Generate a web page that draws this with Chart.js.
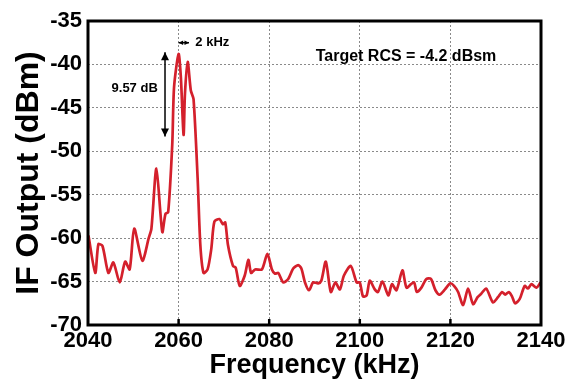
<!DOCTYPE html>
<html>
<head>
<meta charset="utf-8">
<script src="https://cdn.jsdelivr.net/npm/chart.js@4"></script>
<style>
  html, body { margin: 0; padding: 0; background: #fff; }
  #wrap { width: 571px; height: 382px; }
</style>
</head>
<body>
<div id="wrap"><canvas id="chart"></canvas></div>
<script>
// Spectrum
const freqKHz = [
    2040.1, 2041.6, 2042.3, 2043.2, 2044.5, 2045.6, 2047.0, 2048.2, 2049.2, 2050.2,
    2052.0, 2053.4, 2054.0, 2055.1, 2056.4, 2057.1, 2057.7, 2058.6, 2059.0, 2060.0,
    2060.5, 2061.1, 2061.4, 2062.0, 2062.7, 2063.3, 2064.2, 2064.8, 2065.5, 2066.4,
    2067.2, 2067.9, 2069.0, 2069.8, 2070.3, 2070.9, 2072.0, 2072.6, 2073.5, 2074.6,
    2075.4, 2076.0, 2076.9, 2078.4, 2079.6, 2080.6, 2081.3, 2082.0, 2083.1, 2084.2,
    2085.3, 2086.4, 2087.1, 2087.9, 2088.8, 2089.7, 2090.8, 2091.5, 2092.5, 2093.6,
    2094.6, 2095.6, 2096.5, 2098.0, 2099.3, 2100.0, 2100.7, 2101.5, 2102.2, 2103.3,
    2104.0, 2105.0, 2106.3, 2107.1, 2108.1, 2109.4, 2110.3, 2111.3, 2112.0, 2112.6,
    2113.6, 2114.7, 2115.7, 2116.7, 2117.6, 2118.8, 2120.0, 2120.8, 2121.7, 2122.8,
    2123.9, 2125.0, 2126.0, 2126.8, 2127.9, 2129.4, 2130.5, 2131.4, 2132.1, 2132.9,
    2133.6, 2134.3, 2135.3, 2136.4, 2137.1, 2137.9, 2139.0, 2139.9
];
const ifOutputDbm = [
    -59.7, -64.0, -60.7, -60.9, -64.0, -62.8, -65.1, -62.7, -63.6, -58.9,
    -62.6, -60.0, -58.9, -52.0, -59.3, -57.2, -57.0, -49.2, -42.6, -38.8,
    -41.5, -48.1, -43.4, -39.7, -43.0, -44.0, -53.1, -60.8, -64.0, -63.6,
    -61.3, -58.1, -57.8, -58.4, -58.2, -60.8, -63.2, -63.4, -65.5, -64.3,
    -62.5, -64.0, -63.6, -63.6, -61.8, -63.6, -64.1, -64.0, -65.1, -64.7,
    -63.5, -63.1, -63.5, -65.1, -66.0, -65.1, -65.2, -64.9, -62.7, -66.2,
    -65.1, -65.9, -64.3, -63.2, -65.1, -65.1, -66.7, -66.6, -64.9, -65.9,
    -66.2, -65.0, -66.6, -65.3, -66.0, -63.7, -65.7, -65.3, -65.1, -66.2,
    -65.7, -64.7, -64.7, -66.0, -66.5, -65.9, -65.2, -65.5, -66.2, -67.7,
    -65.8, -67.6, -66.8, -66.4, -65.8, -67.4, -66.8, -66.2, -66.5, -66.2,
    -66.7, -67.5, -67.0, -65.5, -65.8, -65.3, -65.7, -65.1
];

// Axis ranges
const xRange = [2040, 2140];
const xStep = 20;
const yRange = [-70, -35];
const yStep = 5;

const FONT = "'Liberation Sans', Arial, sans-serif";

// Annotation plugin: text and arrows placed in data coordinates
const annotations = {
    id: 'annotations',
    afterDraw(chart) {
        const { ctx, chartArea: a, scales: { x, y } } = chart;
        ctx.save();

        // inward tick marks
        ctx.strokeStyle = '#000';
        ctx.lineWidth = 2.5;
        for (let v = xRange[0] + xStep; v < xRange[1]; v += xStep) {
            const px = x.getPixelForValue(v);
            ctx.beginPath();
            ctx.moveTo(px, a.bottom);
            ctx.lineTo(px, a.bottom - 6);
            ctx.stroke();
        }

        // frame
        ctx.lineWidth = 3;
        ctx.strokeRect(a.left, a.top, a.right - a.left, a.bottom - a.top);

        // arrows
        const arrowHead = (x0, y0, dx, dy, size) => {
            const len = Math.hypot(dx, dy);
            const ux = dx / len, uy = dy / len;
            ctx.beginPath();
            ctx.moveTo(x0, y0);
            ctx.lineTo(x0 - ux * size - uy * size * 0.5, y0 - uy * size + ux * size * 0.5);
            ctx.lineTo(x0 - ux * size + uy * size * 0.5, y0 - uy * size - ux * size * 0.5);
            ctx.closePath();
            ctx.fill();
        };
        const doubleArrow = (x1, y1, x2, y2, size) => {
            ctx.beginPath();
            ctx.moveTo(x1, y1);
            ctx.lineTo(x2, y2);
            ctx.stroke();
            arrowHead(x2, y2, x2 - x1, y2 - y1, size);
            arrowHead(x1, y1, x1 - x2, y1 - y2, size);
        };
        ctx.fillStyle = '#000';
        ctx.lineWidth = 1.5;
        const vx = x.getPixelForValue(2057);
        doubleArrow(vx, y.getPixelForValue(-38.6), vx, y.getPixelForValue(-48.3), 8);
        const hy = y.getPixelForValue(-37.5);
        doubleArrow(x.getPixelForValue(2060), hy, x.getPixelForValue(2062.3), hy, 4.5);

        // labels
        ctx.textBaseline = 'middle';
        ctx.font = 'bold 13px ' + FONT;
        ctx.textAlign = 'left';
        ctx.fillText('2 kHz', x.getPixelForValue(2063.7), hy);
        ctx.textAlign = 'center';
        ctx.fillText('9.57 dB', x.getPixelForValue(2050.3), y.getPixelForValue(-42.8));
        ctx.font = 'bold 16px ' + FONT;
        ctx.fillText('Target RCS = -4.2 dBsm', x.getPixelForValue(2110.2), y.getPixelForValue(-39.1));

        ctx.restore();
    }
};

const points = freqKHz.map((f, i) => ({ x: f, y: ifOutputDbm[i] }));

new Chart(document.getElementById('chart'), {
    type: 'line',
    data: {
        datasets: [{
            data: points,
            borderColor: 'rgb(212, 32, 44)',
            borderWidth: 2.7,
            pointRadius: 0,
            tension: 0.25,
            fill: false
        }]
    },
    options: {
        responsive: true,
        maintainAspectRatio: false,
        animation: false,
        layout: { padding: { top: 21, right: 30, left: 0, bottom: 0 } },
        plugins: { legend: { display: false }, tooltip: { enabled: false } },
        scales: {
            x: {
                type: 'linear',
                min: xRange[0],
                max: xRange[1],
                afterFit(scale) { scale.height = 57; },
                ticks: {
                    stepSize: xStep,
                    color: '#000',
                    padding: 3,
                    maxRotation: 0,
                    callback: v => String(v),
                    font: { family: FONT, size: 22, weight: 'bold' }
                },
                grid: { color: '#8a8a8a', lineWidth: 1, drawTicks: false },
                border: { display: false, dash: [2, 2] },
                title: {
                    display: true,
                    text: 'Frequency (kHz)',
                    color: '#000',
                    padding: { top: 0, bottom: 0 },
                    font: { family: FONT, size: 27, weight: 'bold' }
                }
            },
            y: {
                min: yRange[0],
                max: yRange[1],
                afterFit(scale) { scale.width = 88; },
                ticks: {
                    stepSize: yStep,
                    color: '#000',
                    padding: 6,
                    font: { family: FONT, size: 22, weight: 'bold' }
                },
                grid: { color: '#8a8a8a', lineWidth: 1, drawTicks: false },
                border: { display: false, dash: [2, 2] },
                title: {
                    display: true,
                    text: 'IF Output (dBm)',
                    color: '#000',
                    padding: { top: 10, bottom: 0 },
                    font: { family: FONT, size: 32, weight: 'bold' }
                }
            }
        }
    },
    plugins: [annotations]
});
</script>
</body>
</html>
